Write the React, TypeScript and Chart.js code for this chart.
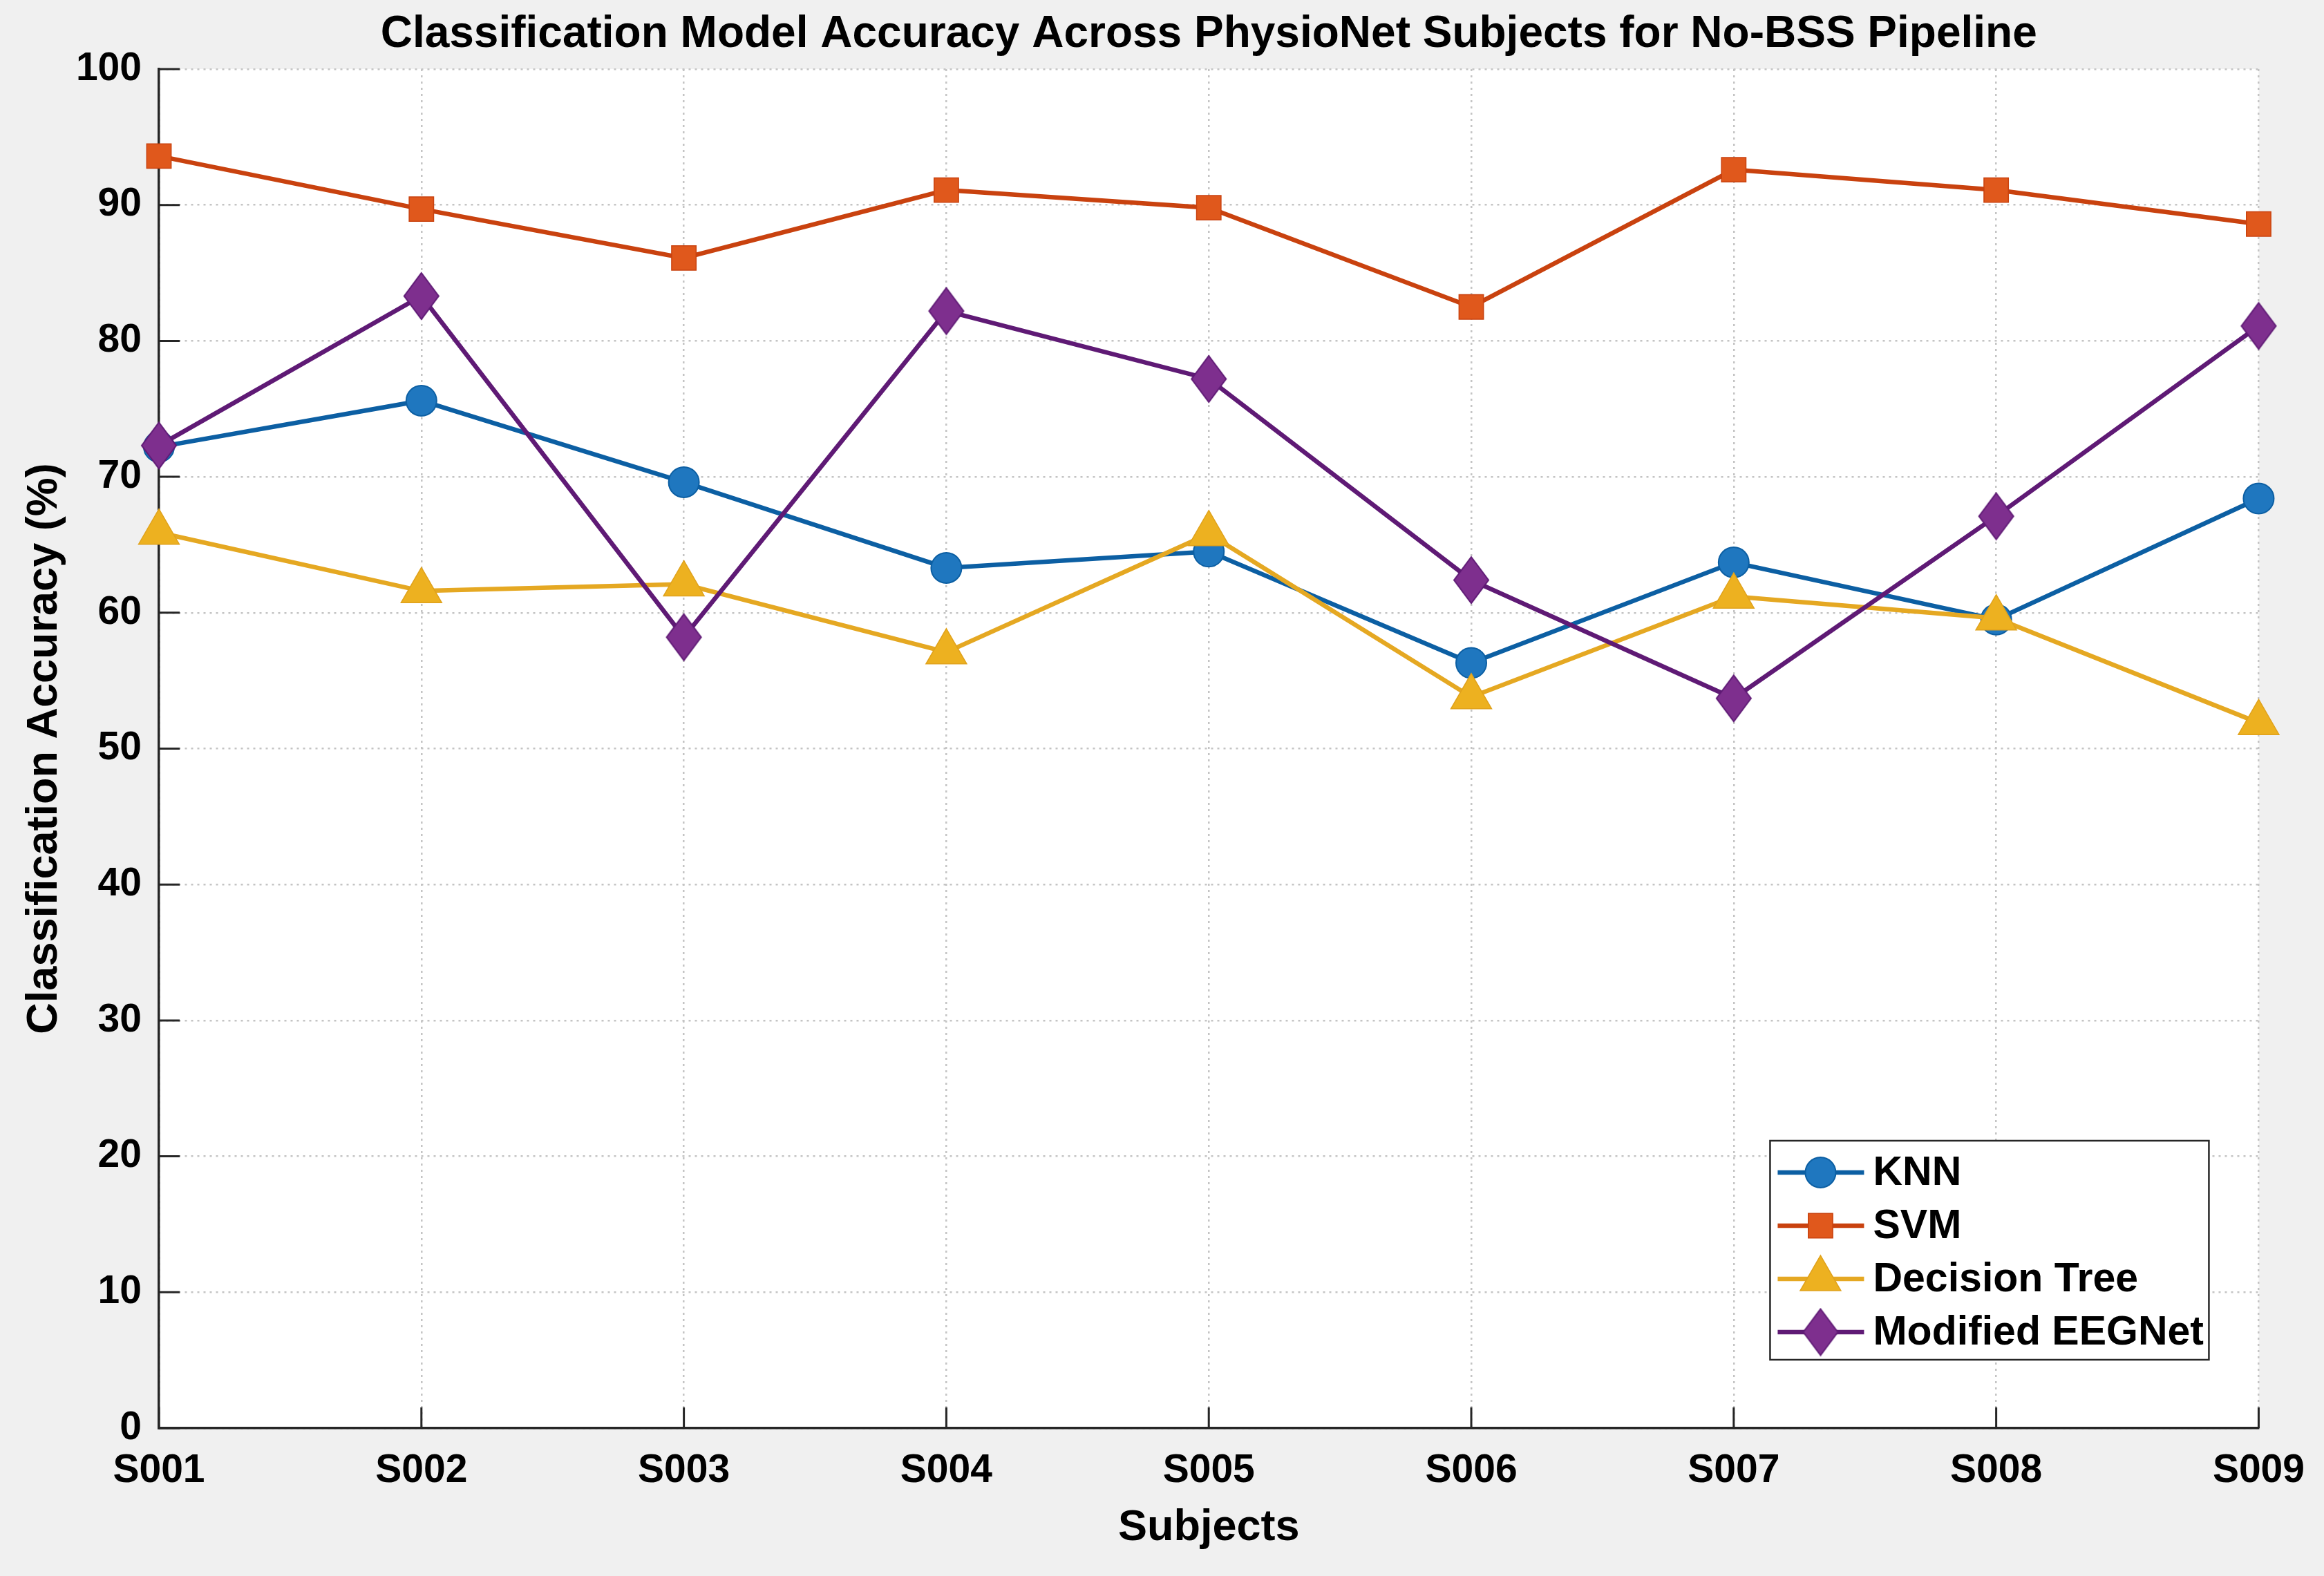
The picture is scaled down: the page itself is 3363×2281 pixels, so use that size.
import { useEffect, useRef } from "react";
import { Chart, registerables, type Plugin } from "chart.js";
import { drawPoint } from "chart.js/helpers";

Chart.register(...registerables);

const SUBJECTS = ["S001", "S002", "S003", "S004", "S005", "S006", "S007", "S008", "S009"];
const KNN = [72.2, 75.6, 69.6, 63.3, 64.5, 56.3, 63.7, 59.5, 68.4];
const SVM = [93.6, 89.7, 86.1, 91.1, 89.8, 82.5, 92.6, 91.1, 88.6];
const DECISION_TREE = [65.9, 61.6, 62.1, 57.1, 65.8, 53.8, 61.2, 59.6, 51.9];
const EEGNET = [72.3, 83.3, 58.2, 82.2, 77.2, 62.4, 53.7, 67.1, 81.1];
const SERIES_NAMES = ["KNN", "SVM", "Decision Tree", "Modified EEGNet"];
const TITLE = "Classification Model Accuracy Across PhysioNet Subjects for No-BSS Pipeline";

const FONT = "'Liberation Sans', Arial, Helvetica, sans-serif";
const AXIS_COLOR = "#262626";

// matlab style diamond is taller than wide, so build it as an image
function makeDiamond(w: number, h: number, fill: string, stroke: string) {
  const c = document.createElement("canvas");
  c.width = w + 4;
  c.height = h + 4;
  const g = c.getContext("2d")!;
  g.beginPath();
  g.moveTo(c.width / 2, 2);
  g.lineTo(c.width - 2, c.height / 2);
  g.lineTo(c.width / 2, c.height - 2);
  g.lineTo(2, c.height / 2);
  g.closePath();
  g.fillStyle = fill;
  g.fill();
  g.lineWidth = 2;
  g.strokeStyle = stroke;
  g.stroke();
  return c;
}

const plotBackground: Plugin = {
  id: "plotBackground",
  beforeDraw(chart) {
    const { ctx, chartArea } = chart;
    ctx.save();
    ctx.fillStyle = "#ffffff";
    ctx.fillRect(chartArea.left, chartArea.top, chartArea.right - chartArea.left, chartArea.bottom - chartArea.top);
    ctx.restore();
  },
};

// title centred over the axes, not the whole canvas
const axesTitle: Plugin = {
  id: "axesTitle",
  afterDraw(chart) {
    const { ctx, chartArea } = chart;
    ctx.save();
    ctx.fillStyle = "#000000";
    ctx.font = `bold 64px ${FONT}`;
    ctx.textAlign = "center";
    ctx.textBaseline = "middle";
    ctx.fillText(TITLE, (chartArea.left + chartArea.right) / 2, chartArea.top - 50);
    ctx.restore();
  },
};

// ticks pointing into the plot, like matlab
const innerTicks: Plugin = {
  id: "innerTicks",
  beforeDatasetsDraw(chart) {
    const { ctx, chartArea, scales } = chart;
    const len = 30;
    ctx.save();
    ctx.strokeStyle = AXIS_COLOR;
    ctx.lineWidth = 3;
    ctx.beginPath();
    scales.y.ticks.forEach((t) => {
      const py = scales.y.getPixelForValue(t.value);
      ctx.moveTo(chartArea.left, py);
      ctx.lineTo(chartArea.left + len, py);
    });
    SUBJECTS.forEach((_, i) => {
      const px = scales.x.getPixelForValue(i);
      ctx.moveTo(px, chartArea.bottom);
      ctx.lineTo(px, chartArea.bottom - len);
    });
    ctx.stroke();
    ctx.restore();
  },
};

const boxedLegend: Plugin = {
  id: "boxedLegend",
  afterDatasetsDraw(chart) {
    const { ctx, chartArea } = chart;
    const w = 635;
    const h = 317;
    const x0 = chartArea.right - 72 - w;
    const y0 = chartArea.bottom - 99 - h;
    ctx.save();
    ctx.fillStyle = "#ffffff";
    ctx.fillRect(x0, y0, w, h);
    ctx.strokeStyle = AXIS_COLOR;
    ctx.lineWidth = 2.5;
    ctx.strokeRect(x0, y0, w, h);
    chart.data.datasets.forEach((ds: any, i) => {
      const cy = y0 + 46 + i * 77;
      ctx.strokeStyle = ds.borderColor;
      ctx.lineWidth = 6.5;
      ctx.beginPath();
      ctx.moveTo(x0 + 11, cy);
      ctx.lineTo(x0 + 136, cy);
      ctx.stroke();
      ctx.fillStyle = ds.pointBackgroundColor;
      ctx.strokeStyle = ds.pointBorderColor;
      ctx.lineWidth = ds.pointBorderWidth;
      drawPoint(ctx, { pointStyle: ds.pointStyle, radius: ds.pointRadius, rotation: 0, borderWidth: ds.pointBorderWidth }, x0 + 73, cy);
      ctx.fillStyle = "#000000";
      ctx.font = `bold 59px ${FONT}`;
      ctx.textBaseline = "middle";
      ctx.textAlign = "left";
      ctx.fillText(ds.label, x0 + 149, cy + 2);
    });
    ctx.restore();
  },
};

export default function App() {
  const canvasRef = useRef<HTMLCanvasElement>(null);
  const chartRef = useRef<Chart | null>(null);

  useEffect(() => {
    document.body.style.margin = "0";
    if (!canvasRef.current) return;
    chartRef.current?.destroy();

    const diamond = makeDiamond(50, 67, "#7e2f8e", "#5f1a75");

    chartRef.current = new Chart(canvasRef.current, {
      type: "line",
      data: {
        labels: SUBJECTS,
        datasets: [
          {
            label: SERIES_NAMES[0],
            data: KNN,
            borderColor: "#0c5fa3",
            pointBackgroundColor: "#1f77bf",
            pointBorderColor: "#0c5fa3",
            pointBorderWidth: 2,
            pointStyle: "circle",
            pointRadius: 22,
            order: 4,
          },
          {
            label: SERIES_NAMES[1],
            data: SVM,
            borderColor: "#c9420f",
            pointBackgroundColor: "#e0581c",
            pointBorderColor: "#c9420f",
            pointBorderWidth: 1.5,
            pointStyle: "rect",
            pointRadius: 25,
            order: 3,
          },
          {
            label: SERIES_NAMES[2],
            data: DECISION_TREE,
            borderColor: "#e5a822",
            pointBackgroundColor: "#edb120",
            pointBorderColor: "#e0a21c",
            pointBorderWidth: 1.5,
            pointStyle: "triangle",
            pointRadius: 34,
            order: 2,
          },
          {
            label: SERIES_NAMES[3],
            data: EEGNET,
            borderColor: "#5f1a75",
            pointBackgroundColor: "#7e2f8e",
            pointBorderColor: "#5f1a75",
            pointBorderWidth: 2,
            pointStyle: diamond,
            pointRadius: 30,
            order: 1,
          },
        ].map((d) => ({ ...d, borderWidth: 6.5, tension: 0, clip: false as const, pointHoverRadius: d.pointRadius })),
      },
      options: {
        animation: false,
        responsive: false,
        devicePixelRatio: 1,
        layout: { padding: { left: 0, right: 88, top: 100, bottom: 0 } },
        plugins: {
          legend: { display: false },
          tooltip: { enabled: false },
          title: { display: false },
        },
        scales: {
          x: {
            type: "category",
            offset: false,
            afterFit: (scale) => {
              scale.height = 214;
            },
            grid: { color: "#c4c4c4", lineWidth: 2.5, drawTicks: false, offset: false },
            border: { display: true, color: AXIS_COLOR, width: 3.5, dash: [3, 6] },
            ticks: {
              color: "#000000",
              font: { family: FONT, size: 57, weight: "bold" },
              padding: 28,
              maxRotation: 0,
              autoSkip: false,
            },
            title: {
              display: true,
              text: "Subjects",
              color: "#000000",
              font: { family: FONT, size: 63, weight: "bold" },
              padding: { top: 0, bottom: 32 },
            },
          },
          y: {
            min: 0,
            max: 100,
            afterFit: (scale) => {
              scale.width = 230;
            },
            grid: { color: "#c4c4c4", lineWidth: 2.5, drawTicks: false },
            border: { display: true, color: AXIS_COLOR, width: 3.5, dash: [3, 6] },
            ticks: {
              stepSize: 10,
              color: "#000000",
              font: { family: FONT, size: 57, weight: "bold" },
              padding: 25,
            },
            title: {
              display: true,
              text: "Classification Accuracy (%)",
              color: "#000000",
              font: { family: FONT, size: 63, weight: "bold" },
              padding: { top: 27, bottom: 0 },
            },
          },
        },
      },
      plugins: [plotBackground, innerTicks, boxedLegend, axesTitle],
    });

    return () => {
      chartRef.current?.destroy();
      chartRef.current = null;
    };
  }, []);

  return (
    <div style={{ width: 3363, height: 2281, background: "#f0f0f0" }}>
      <canvas ref={canvasRef} width={3363} height={2281} />
    </div>
  );
}
